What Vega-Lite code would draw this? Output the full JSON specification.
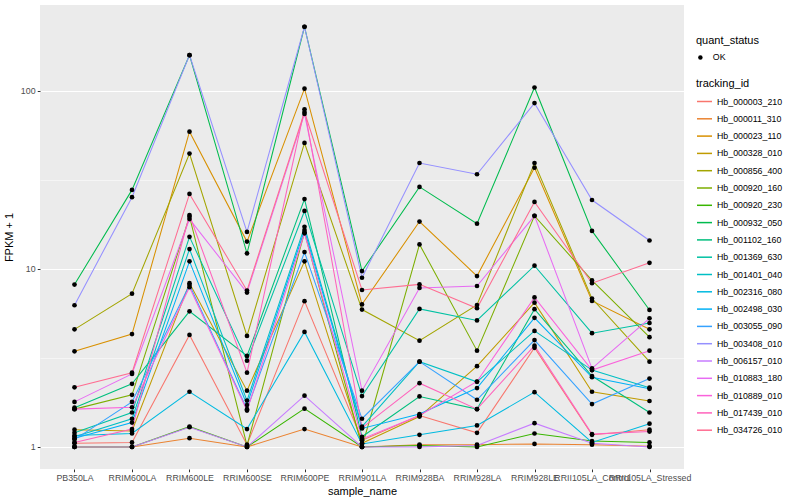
{
"$schema": "https://vega.github.io/schema/vega-lite/v6.json",
"width": 644, "height": 464,
"autosize": {"type": "none"},
"padding": {"left": 40, "top": 5, "right": 116, "bottom": 31},
"background": "white",
"config": {
  "font": "Liberation Sans",
  "view": {"fill": "#EBEBEB", "stroke": null},
  "axis": {"domain": false, "gridColor": "white", "tickColor": "#333333", "tickSize": 2.75, "labelColor": "#4D4D4D", "labelFontSize": 8.8, "titleFontSize": 11, "titleFontWeight": "normal", "titleColor": "black", "labelPadding": 2.2},
  "legend": {"titleFontSize": 11, "titleFontWeight": "normal", "titleColor": "black", "labelFontSize": 8.8, "labelColor": "black"}
},
"data": {"values": [
{"sample_name":"PB350LA","tracking_id":"Hb_000003_210","value":1.05,"quant_status":"OK"},
{"sample_name":"RRIM600LA","tracking_id":"Hb_000003_210","value":1.06,"quant_status":"OK"},
{"sample_name":"RRIM600LE","tracking_id":"Hb_000003_210","value":4.25,"quant_status":"OK"},
{"sample_name":"RRIM600SE","tracking_id":"Hb_000003_210","value":1.03,"quant_status":"OK"},
{"sample_name":"RRIM600PE","tracking_id":"Hb_000003_210","value":6.58,"quant_status":"OK"},
{"sample_name":"RRIM901LA","tracking_id":"Hb_000003_210","value":1.09,"quant_status":"OK"},
{"sample_name":"RRIM928BA","tracking_id":"Hb_000003_210","value":1.5,"quant_status":"OK"},
{"sample_name":"RRIM928LA","tracking_id":"Hb_000003_210","value":1.2,"quant_status":"OK"},
{"sample_name":"RRIM928LE","tracking_id":"Hb_000003_210","value":3.6,"quant_status":"OK"},
{"sample_name":"RRII105LA_Control","tracking_id":"Hb_000003_210","value":1.17,"quant_status":"OK"},
{"sample_name":"RRII105LA_Stressed","tracking_id":"Hb_000003_210","value":1.25,"quant_status":"OK"},
{"sample_name":"PB350LA","tracking_id":"Hb_000011_310","value":1.0,"quant_status":"OK"},
{"sample_name":"RRIM600LA","tracking_id":"Hb_000011_310","value":1.0,"quant_status":"OK"},
{"sample_name":"RRIM600LE","tracking_id":"Hb_000011_310","value":1.12,"quant_status":"OK"},
{"sample_name":"RRIM600SE","tracking_id":"Hb_000011_310","value":1.0,"quant_status":"OK"},
{"sample_name":"RRIM600PE","tracking_id":"Hb_000011_310","value":1.26,"quant_status":"OK"},
{"sample_name":"RRIM901LA","tracking_id":"Hb_000011_310","value":1.0,"quant_status":"OK"},
{"sample_name":"RRIM928BA","tracking_id":"Hb_000011_310","value":1.03,"quant_status":"OK"},
{"sample_name":"RRIM928LA","tracking_id":"Hb_000011_310","value":1.03,"quant_status":"OK"},
{"sample_name":"RRIM928LE","tracking_id":"Hb_000011_310","value":1.04,"quant_status":"OK"},
{"sample_name":"RRII105LA_Control","tracking_id":"Hb_000011_310","value":1.03,"quant_status":"OK"},
{"sample_name":"RRII105LA_Stressed","tracking_id":"Hb_000011_310","value":1.01,"quant_status":"OK"},
{"sample_name":"PB350LA","tracking_id":"Hb_000023_110","value":3.44,"quant_status":"OK"},
{"sample_name":"RRIM600LA","tracking_id":"Hb_000023_110","value":4.3,"quant_status":"OK"},
{"sample_name":"RRIM600LE","tracking_id":"Hb_000023_110","value":58.8,"quant_status":"OK"},
{"sample_name":"RRIM600SE","tracking_id":"Hb_000023_110","value":14.2,"quant_status":"OK"},
{"sample_name":"RRIM600PE","tracking_id":"Hb_000023_110","value":102.5,"quant_status":"OK"},
{"sample_name":"RRIM901LA","tracking_id":"Hb_000023_110","value":6.31,"quant_status":"OK"},
{"sample_name":"RRIM928BA","tracking_id":"Hb_000023_110","value":18.4,"quant_status":"OK"},
{"sample_name":"RRIM928LA","tracking_id":"Hb_000023_110","value":9.1,"quant_status":"OK"},
{"sample_name":"RRIM928LE","tracking_id":"Hb_000023_110","value":36.9,"quant_status":"OK"},
{"sample_name":"RRII105LA_Control","tracking_id":"Hb_000023_110","value":6.6,"quant_status":"OK"},
{"sample_name":"RRII105LA_Stressed","tracking_id":"Hb_000023_110","value":4.57,"quant_status":"OK"},
{"sample_name":"PB350LA","tracking_id":"Hb_000328_010","value":1.25,"quant_status":"OK"},
{"sample_name":"RRIM600LA","tracking_id":"Hb_000328_010","value":1.23,"quant_status":"OK"},
{"sample_name":"RRIM600LE","tracking_id":"Hb_000328_010","value":8.3,"quant_status":"OK"},
{"sample_name":"RRIM600SE","tracking_id":"Hb_000328_010","value":2.07,"quant_status":"OK"},
{"sample_name":"RRIM600PE","tracking_id":"Hb_000328_010","value":11.0,"quant_status":"OK"},
{"sample_name":"RRIM901LA","tracking_id":"Hb_000328_010","value":1.05,"quant_status":"OK"},
{"sample_name":"RRIM928BA","tracking_id":"Hb_000328_010","value":1.48,"quant_status":"OK"},
{"sample_name":"RRIM928LA","tracking_id":"Hb_000328_010","value":2.84,"quant_status":"OK"},
{"sample_name":"RRIM928LE","tracking_id":"Hb_000328_010","value":6.45,"quant_status":"OK"},
{"sample_name":"RRII105LA_Control","tracking_id":"Hb_000328_010","value":2.04,"quant_status":"OK"},
{"sample_name":"RRII105LA_Stressed","tracking_id":"Hb_000328_010","value":1.81,"quant_status":"OK"},
{"sample_name":"PB350LA","tracking_id":"Hb_000856_400","value":4.57,"quant_status":"OK"},
{"sample_name":"RRIM600LA","tracking_id":"Hb_000856_400","value":7.25,"quant_status":"OK"},
{"sample_name":"RRIM600LE","tracking_id":"Hb_000856_400","value":44.3,"quant_status":"OK"},
{"sample_name":"RRIM600SE","tracking_id":"Hb_000856_400","value":4.2,"quant_status":"OK"},
{"sample_name":"RRIM600PE","tracking_id":"Hb_000856_400","value":50.8,"quant_status":"OK"},
{"sample_name":"RRIM901LA","tracking_id":"Hb_000856_400","value":5.9,"quant_status":"OK"},
{"sample_name":"RRIM928BA","tracking_id":"Hb_000856_400","value":3.95,"quant_status":"OK"},
{"sample_name":"RRIM928LA","tracking_id":"Hb_000856_400","value":6.26,"quant_status":"OK"},
{"sample_name":"RRIM928LE","tracking_id":"Hb_000856_400","value":39.2,"quant_status":"OK"},
{"sample_name":"RRII105LA_Control","tracking_id":"Hb_000856_400","value":6.8,"quant_status":"OK"},
{"sample_name":"RRII105LA_Stressed","tracking_id":"Hb_000856_400","value":3.01,"quant_status":"OK"},
{"sample_name":"PB350LA","tracking_id":"Hb_000920_160","value":1.63,"quant_status":"OK"},
{"sample_name":"RRIM600LA","tracking_id":"Hb_000920_160","value":1.96,"quant_status":"OK"},
{"sample_name":"RRIM600LE","tracking_id":"Hb_000920_160","value":19.6,"quant_status":"OK"},
{"sample_name":"RRIM600SE","tracking_id":"Hb_000920_160","value":1.02,"quant_status":"OK"},
{"sample_name":"RRIM600PE","tracking_id":"Hb_000920_160","value":16.0,"quant_status":"OK"},
{"sample_name":"RRIM901LA","tracking_id":"Hb_000920_160","value":1.0,"quant_status":"OK"},
{"sample_name":"RRIM928BA","tracking_id":"Hb_000920_160","value":13.7,"quant_status":"OK"},
{"sample_name":"RRIM928LA","tracking_id":"Hb_000920_160","value":3.47,"quant_status":"OK"},
{"sample_name":"RRIM928LE","tracking_id":"Hb_000920_160","value":19.8,"quant_status":"OK"},
{"sample_name":"RRII105LA_Control","tracking_id":"Hb_000920_160","value":8.6,"quant_status":"OK"},
{"sample_name":"RRII105LA_Stressed","tracking_id":"Hb_000920_160","value":4.13,"quant_status":"OK"},
{"sample_name":"PB350LA","tracking_id":"Hb_000920_230","value":1.0,"quant_status":"OK"},
{"sample_name":"RRIM600LA","tracking_id":"Hb_000920_230","value":1.0,"quant_status":"OK"},
{"sample_name":"RRIM600LE","tracking_id":"Hb_000920_230","value":1.3,"quant_status":"OK"},
{"sample_name":"RRIM600SE","tracking_id":"Hb_000920_230","value":1.0,"quant_status":"OK"},
{"sample_name":"RRIM600PE","tracking_id":"Hb_000920_230","value":1.64,"quant_status":"OK"},
{"sample_name":"RRIM901LA","tracking_id":"Hb_000920_230","value":1.0,"quant_status":"OK"},
{"sample_name":"RRIM928BA","tracking_id":"Hb_000920_230","value":1.02,"quant_status":"OK"},
{"sample_name":"RRIM928LA","tracking_id":"Hb_000920_230","value":1.0,"quant_status":"OK"},
{"sample_name":"RRIM928LE","tracking_id":"Hb_000920_230","value":1.19,"quant_status":"OK"},
{"sample_name":"RRII105LA_Control","tracking_id":"Hb_000920_230","value":1.08,"quant_status":"OK"},
{"sample_name":"RRII105LA_Stressed","tracking_id":"Hb_000920_230","value":1.06,"quant_status":"OK"},
{"sample_name":"PB350LA","tracking_id":"Hb_000932_050","value":8.15,"quant_status":"OK"},
{"sample_name":"RRIM600LA","tracking_id":"Hb_000932_050","value":27.7,"quant_status":"OK"},
{"sample_name":"RRIM600LE","tracking_id":"Hb_000932_050","value":158,"quant_status":"OK"},
{"sample_name":"RRIM600SE","tracking_id":"Hb_000932_050","value":12.2,"quant_status":"OK"},
{"sample_name":"RRIM600PE","tracking_id":"Hb_000932_050","value":228,"quant_status":"OK"},
{"sample_name":"RRIM901LA","tracking_id":"Hb_000932_050","value":9.7,"quant_status":"OK"},
{"sample_name":"RRIM928BA","tracking_id":"Hb_000932_050","value":28.8,"quant_status":"OK"},
{"sample_name":"RRIM928LA","tracking_id":"Hb_000932_050","value":17.9,"quant_status":"OK"},
{"sample_name":"RRIM928LE","tracking_id":"Hb_000932_050","value":104,"quant_status":"OK"},
{"sample_name":"RRII105LA_Control","tracking_id":"Hb_000932_050","value":16.3,"quant_status":"OK"},
{"sample_name":"RRII105LA_Stressed","tracking_id":"Hb_000932_050","value":5.87,"quant_status":"OK"},
{"sample_name":"PB350LA","tracking_id":"Hb_001102_160","value":1.66,"quant_status":"OK"},
{"sample_name":"RRIM600LA","tracking_id":"Hb_001102_160","value":2.26,"quant_status":"OK"},
{"sample_name":"RRIM600LE","tracking_id":"Hb_001102_160","value":5.77,"quant_status":"OK"},
{"sample_name":"RRIM600SE","tracking_id":"Hb_001102_160","value":3.24,"quant_status":"OK"},
{"sample_name":"RRIM600PE","tracking_id":"Hb_001102_160","value":24.6,"quant_status":"OK"},
{"sample_name":"RRIM901LA","tracking_id":"Hb_001102_160","value":1.14,"quant_status":"OK"},
{"sample_name":"RRIM928BA","tracking_id":"Hb_001102_160","value":1.92,"quant_status":"OK"},
{"sample_name":"RRIM928LA","tracking_id":"Hb_001102_160","value":1.63,"quant_status":"OK"},
{"sample_name":"RRIM928LE","tracking_id":"Hb_001102_160","value":5.93,"quant_status":"OK"},
{"sample_name":"RRII105LA_Control","tracking_id":"Hb_001102_160","value":2.5,"quant_status":"OK"},
{"sample_name":"RRII105LA_Stressed","tracking_id":"Hb_001102_160","value":1.56,"quant_status":"OK"},
{"sample_name":"PB350LA","tracking_id":"Hb_001369_630","value":1.2,"quant_status":"OK"},
{"sample_name":"RRIM600LA","tracking_id":"Hb_001369_630","value":1.56,"quant_status":"OK"},
{"sample_name":"RRIM600LE","tracking_id":"Hb_001369_630","value":15.1,"quant_status":"OK"},
{"sample_name":"RRIM600SE","tracking_id":"Hb_001369_630","value":3.05,"quant_status":"OK"},
{"sample_name":"RRIM600PE","tracking_id":"Hb_001369_630","value":21.1,"quant_status":"OK"},
{"sample_name":"RRIM901LA","tracking_id":"Hb_001369_630","value":1.93,"quant_status":"OK"},
{"sample_name":"RRIM928BA","tracking_id":"Hb_001369_630","value":5.95,"quant_status":"OK"},
{"sample_name":"RRIM928LA","tracking_id":"Hb_001369_630","value":5.13,"quant_status":"OK"},
{"sample_name":"RRIM928LE","tracking_id":"Hb_001369_630","value":10.4,"quant_status":"OK"},
{"sample_name":"RRII105LA_Control","tracking_id":"Hb_001369_630","value":4.35,"quant_status":"OK"},
{"sample_name":"RRII105LA_Stressed","tracking_id":"Hb_001369_630","value":4.96,"quant_status":"OK"},
{"sample_name":"PB350LA","tracking_id":"Hb_001401_040","value":1.14,"quant_status":"OK"},
{"sample_name":"RRIM600LA","tracking_id":"Hb_001401_040","value":1.44,"quant_status":"OK"},
{"sample_name":"RRIM600LE","tracking_id":"Hb_001401_040","value":12.9,"quant_status":"OK"},
{"sample_name":"RRIM600SE","tracking_id":"Hb_001401_040","value":1.82,"quant_status":"OK"},
{"sample_name":"RRIM600PE","tracking_id":"Hb_001401_040","value":17.2,"quant_status":"OK"},
{"sample_name":"RRIM901LA","tracking_id":"Hb_001401_040","value":1.3,"quant_status":"OK"},
{"sample_name":"RRIM928BA","tracking_id":"Hb_001401_040","value":3.01,"quant_status":"OK"},
{"sample_name":"RRIM928LA","tracking_id":"Hb_001401_040","value":2.32,"quant_status":"OK"},
{"sample_name":"RRIM928LE","tracking_id":"Hb_001401_040","value":4.48,"quant_status":"OK"},
{"sample_name":"RRII105LA_Control","tracking_id":"Hb_001401_040","value":2.7,"quant_status":"OK"},
{"sample_name":"RRII105LA_Stressed","tracking_id":"Hb_001401_040","value":2.15,"quant_status":"OK"},
{"sample_name":"PB350LA","tracking_id":"Hb_002316_080","value":1.16,"quant_status":"OK"},
{"sample_name":"RRIM600LA","tracking_id":"Hb_002316_080","value":1.19,"quant_status":"OK"},
{"sample_name":"RRIM600LE","tracking_id":"Hb_002316_080","value":2.04,"quant_status":"OK"},
{"sample_name":"RRIM600SE","tracking_id":"Hb_002316_080","value":1.26,"quant_status":"OK"},
{"sample_name":"RRIM600PE","tracking_id":"Hb_002316_080","value":4.42,"quant_status":"OK"},
{"sample_name":"RRIM901LA","tracking_id":"Hb_002316_080","value":1.04,"quant_status":"OK"},
{"sample_name":"RRIM928BA","tracking_id":"Hb_002316_080","value":1.17,"quant_status":"OK"},
{"sample_name":"RRIM928LA","tracking_id":"Hb_002316_080","value":1.32,"quant_status":"OK"},
{"sample_name":"RRIM928LE","tracking_id":"Hb_002316_080","value":2.03,"quant_status":"OK"},
{"sample_name":"RRII105LA_Control","tracking_id":"Hb_002316_080","value":1.06,"quant_status":"OK"},
{"sample_name":"RRII105LA_Stressed","tracking_id":"Hb_002316_080","value":1.35,"quant_status":"OK"},
{"sample_name":"PB350LA","tracking_id":"Hb_002498_030","value":1.12,"quant_status":"OK"},
{"sample_name":"RRIM600LA","tracking_id":"Hb_002498_030","value":1.37,"quant_status":"OK"},
{"sample_name":"RRIM600LE","tracking_id":"Hb_002498_030","value":11.0,"quant_status":"OK"},
{"sample_name":"RRIM600SE","tracking_id":"Hb_002498_030","value":1.72,"quant_status":"OK"},
{"sample_name":"RRIM600PE","tracking_id":"Hb_002498_030","value":16.5,"quant_status":"OK"},
{"sample_name":"RRIM901LA","tracking_id":"Hb_002498_030","value":1.27,"quant_status":"OK"},
{"sample_name":"RRIM928BA","tracking_id":"Hb_002498_030","value":1.53,"quant_status":"OK"},
{"sample_name":"RRIM928LA","tracking_id":"Hb_002498_030","value":2.14,"quant_status":"OK"},
{"sample_name":"RRIM928LE","tracking_id":"Hb_002498_030","value":5.3,"quant_status":"OK"},
{"sample_name":"RRII105LA_Control","tracking_id":"Hb_002498_030","value":2.46,"quant_status":"OK"},
{"sample_name":"RRII105LA_Stressed","tracking_id":"Hb_002498_030","value":2.12,"quant_status":"OK"},
{"sample_name":"PB350LA","tracking_id":"Hb_003055_090","value":1.1,"quant_status":"OK"},
{"sample_name":"RRIM600LA","tracking_id":"Hb_003055_090","value":1.79,"quant_status":"OK"},
{"sample_name":"RRIM600LE","tracking_id":"Hb_003055_090","value":8.1,"quant_status":"OK"},
{"sample_name":"RRIM600SE","tracking_id":"Hb_003055_090","value":1.63,"quant_status":"OK"},
{"sample_name":"RRIM600PE","tracking_id":"Hb_003055_090","value":12.4,"quant_status":"OK"},
{"sample_name":"RRIM901LA","tracking_id":"Hb_003055_090","value":1.44,"quant_status":"OK"},
{"sample_name":"RRIM928BA","tracking_id":"Hb_003055_090","value":3.01,"quant_status":"OK"},
{"sample_name":"RRIM928LA","tracking_id":"Hb_003055_090","value":1.84,"quant_status":"OK"},
{"sample_name":"RRIM928LE","tracking_id":"Hb_003055_090","value":3.98,"quant_status":"OK"},
{"sample_name":"RRII105LA_Control","tracking_id":"Hb_003055_090","value":1.74,"quant_status":"OK"},
{"sample_name":"RRII105LA_Stressed","tracking_id":"Hb_003055_090","value":2.42,"quant_status":"OK"},
{"sample_name":"PB350LA","tracking_id":"Hb_003408_010","value":6.24,"quant_status":"OK"},
{"sample_name":"RRIM600LA","tracking_id":"Hb_003408_010","value":25.2,"quant_status":"OK"},
{"sample_name":"RRIM600LE","tracking_id":"Hb_003408_010","value":158,"quant_status":"OK"},
{"sample_name":"RRIM600SE","tracking_id":"Hb_003408_010","value":16.1,"quant_status":"OK"},
{"sample_name":"RRIM600PE","tracking_id":"Hb_003408_010","value":228,"quant_status":"OK"},
{"sample_name":"RRIM901LA","tracking_id":"Hb_003408_010","value":8.9,"quant_status":"OK"},
{"sample_name":"RRIM928BA","tracking_id":"Hb_003408_010","value":39.2,"quant_status":"OK"},
{"sample_name":"RRIM928LA","tracking_id":"Hb_003408_010","value":33.9,"quant_status":"OK"},
{"sample_name":"RRIM928LE","tracking_id":"Hb_003408_010","value":85,"quant_status":"OK"},
{"sample_name":"RRII105LA_Control","tracking_id":"Hb_003408_010","value":24.3,"quant_status":"OK"},
{"sample_name":"RRII105LA_Stressed","tracking_id":"Hb_003408_010","value":14.4,"quant_status":"OK"},
{"sample_name":"PB350LA","tracking_id":"Hb_006157_010","value":1.0,"quant_status":"OK"},
{"sample_name":"RRIM600LA","tracking_id":"Hb_006157_010","value":1.0,"quant_status":"OK"},
{"sample_name":"RRIM600LE","tracking_id":"Hb_006157_010","value":1.29,"quant_status":"OK"},
{"sample_name":"RRIM600SE","tracking_id":"Hb_006157_010","value":1.0,"quant_status":"OK"},
{"sample_name":"RRIM600PE","tracking_id":"Hb_006157_010","value":1.94,"quant_status":"OK"},
{"sample_name":"RRIM901LA","tracking_id":"Hb_006157_010","value":1.0,"quant_status":"OK"},
{"sample_name":"RRIM928BA","tracking_id":"Hb_006157_010","value":1.0,"quant_status":"OK"},
{"sample_name":"RRIM928LA","tracking_id":"Hb_006157_010","value":1.02,"quant_status":"OK"},
{"sample_name":"RRIM928LE","tracking_id":"Hb_006157_010","value":1.36,"quant_status":"OK"},
{"sample_name":"RRII105LA_Control","tracking_id":"Hb_006157_010","value":1.05,"quant_status":"OK"},
{"sample_name":"RRII105LA_Stressed","tracking_id":"Hb_006157_010","value":1.0,"quant_status":"OK"},
{"sample_name":"PB350LA","tracking_id":"Hb_010883_180","value":1.79,"quant_status":"OK"},
{"sample_name":"RRIM600LA","tracking_id":"Hb_010883_180","value":2.57,"quant_status":"OK"},
{"sample_name":"RRIM600LE","tracking_id":"Hb_010883_180","value":19.0,"quant_status":"OK"},
{"sample_name":"RRIM600SE","tracking_id":"Hb_010883_180","value":7.35,"quant_status":"OK"},
{"sample_name":"RRIM600PE","tracking_id":"Hb_010883_180","value":73.9,"quant_status":"OK"},
{"sample_name":"RRIM901LA","tracking_id":"Hb_010883_180","value":2.07,"quant_status":"OK"},
{"sample_name":"RRIM928BA","tracking_id":"Hb_010883_180","value":7.8,"quant_status":"OK"},
{"sample_name":"RRIM928LA","tracking_id":"Hb_010883_180","value":8.0,"quant_status":"OK"},
{"sample_name":"RRIM928LE","tracking_id":"Hb_010883_180","value":19.8,"quant_status":"OK"},
{"sample_name":"RRII105LA_Control","tracking_id":"Hb_010883_180","value":2.76,"quant_status":"OK"},
{"sample_name":"RRII105LA_Stressed","tracking_id":"Hb_010883_180","value":5.27,"quant_status":"OK"},
{"sample_name":"PB350LA","tracking_id":"Hb_010889_010","value":1.63,"quant_status":"OK"},
{"sample_name":"RRIM600LA","tracking_id":"Hb_010889_010","value":1.67,"quant_status":"OK"},
{"sample_name":"RRIM600LE","tracking_id":"Hb_010889_010","value":7.87,"quant_status":"OK"},
{"sample_name":"RRIM600SE","tracking_id":"Hb_010889_010","value":1.6,"quant_status":"OK"},
{"sample_name":"RRIM600PE","tracking_id":"Hb_010889_010","value":15.8,"quant_status":"OK"},
{"sample_name":"RRIM901LA","tracking_id":"Hb_010889_010","value":1.11,"quant_status":"OK"},
{"sample_name":"RRIM928BA","tracking_id":"Hb_010889_010","value":1.5,"quant_status":"OK"},
{"sample_name":"RRIM928LA","tracking_id":"Hb_010889_010","value":2.33,"quant_status":"OK"},
{"sample_name":"RRIM928LE","tracking_id":"Hb_010889_010","value":6.9,"quant_status":"OK"},
{"sample_name":"RRII105LA_Control","tracking_id":"Hb_010889_010","value":2.7,"quant_status":"OK"},
{"sample_name":"RRII105LA_Stressed","tracking_id":"Hb_010889_010","value":3.47,"quant_status":"OK"},
{"sample_name":"PB350LA","tracking_id":"Hb_017439_010","value":1.06,"quant_status":"OK"},
{"sample_name":"RRIM600LA","tracking_id":"Hb_017439_010","value":1.26,"quant_status":"OK"},
{"sample_name":"RRIM600LE","tracking_id":"Hb_017439_010","value":20.0,"quant_status":"OK"},
{"sample_name":"RRIM600SE","tracking_id":"Hb_017439_010","value":2.61,"quant_status":"OK"},
{"sample_name":"RRIM600PE","tracking_id":"Hb_017439_010","value":78.5,"quant_status":"OK"},
{"sample_name":"RRIM901LA","tracking_id":"Hb_017439_010","value":1.28,"quant_status":"OK"},
{"sample_name":"RRIM928BA","tracking_id":"Hb_017439_010","value":2.28,"quant_status":"OK"},
{"sample_name":"RRIM928LA","tracking_id":"Hb_017439_010","value":1.63,"quant_status":"OK"},
{"sample_name":"RRIM928LE","tracking_id":"Hb_017439_010","value":3.7,"quant_status":"OK"},
{"sample_name":"RRII105LA_Control","tracking_id":"Hb_017439_010","value":1.18,"quant_status":"OK"},
{"sample_name":"RRII105LA_Stressed","tracking_id":"Hb_017439_010","value":1.22,"quant_status":"OK"},
{"sample_name":"PB350LA","tracking_id":"Hb_034726_010","value":2.16,"quant_status":"OK"},
{"sample_name":"RRIM600LA","tracking_id":"Hb_034726_010","value":2.61,"quant_status":"OK"},
{"sample_name":"RRIM600LE","tracking_id":"Hb_034726_010","value":26.3,"quant_status":"OK"},
{"sample_name":"RRIM600SE","tracking_id":"Hb_034726_010","value":7.55,"quant_status":"OK"},
{"sample_name":"RRIM600PE","tracking_id":"Hb_034726_010","value":75.8,"quant_status":"OK"},
{"sample_name":"RRIM901LA","tracking_id":"Hb_034726_010","value":7.6,"quant_status":"OK"},
{"sample_name":"RRIM928BA","tracking_id":"Hb_034726_010","value":8.17,"quant_status":"OK"},
{"sample_name":"RRIM928LA","tracking_id":"Hb_034726_010","value":6.0,"quant_status":"OK"},
{"sample_name":"RRIM928LE","tracking_id":"Hb_034726_010","value":23.7,"quant_status":"OK"},
{"sample_name":"RRII105LA_Control","tracking_id":"Hb_034726_010","value":8.3,"quant_status":"OK"},
{"sample_name":"RRII105LA_Stressed","tracking_id":"Hb_034726_010","value":10.8,"quant_status":"OK"}
]},
"encoding": {
  "x": {"field": "sample_name", "type": "nominal",
    "sort": ["PB350LA","RRIM600LA","RRIM600LE","RRIM600SE","RRIM600PE","RRIM901LA","RRIM928BA","RRIM928LA","RRIM928LE","RRII105LA_Control","RRII105LA_Stressed"],
    "scale": {"type": "point", "padding": 0.6},
    "axis": {"title": "sample_name", "labelAngle": 0, "labelOverlap": false, "gridWidth": 1.07, "titlePadding": 3}},
  "y": {"field": "value", "type": "quantitative",
    "scale": {"type": "log", "domain": [0.752, 302], "nice": false, "zero": false},
    "axis": {"title": "FPKM + 1", "values": [1, 3.1623, 10, 31.623, 100],
      "labelExpr": "datum.value == 1 || datum.value == 10 || datum.value == 100 ? datum.label : ''",
      "tickColor": {"condition": {"test": "datum.value == 1 || datum.value == 10 || datum.value == 100", "value": "#333333"}, "value": "transparent"},
      "gridWidth": {"condition": {"test": "datum.value == 1 || datum.value == 10 || datum.value == 100", "value": 1.07}, "value": 0.53},
      "titlePadding": 6}}
},
"layer": [
  {"mark": {"type": "line", "strokeWidth": 1.05},
   "encoding": {"color": {"field": "tracking_id", "type": "nominal",
     "scale": {"domain": ["Hb_000003_210","Hb_000011_310","Hb_000023_110","Hb_000328_010","Hb_000856_400","Hb_000920_160","Hb_000920_230","Hb_000932_050","Hb_001102_160","Hb_001369_630","Hb_001401_040","Hb_002316_080","Hb_002498_030","Hb_003055_090","Hb_003408_010","Hb_006157_010","Hb_010883_180","Hb_010889_010","Hb_017439_010","Hb_034726_010"],
       "range": ["#F8766D","#EA8331","#D89000","#C09B00","#A3A500","#7CAE00","#39B600","#00BB4E","#00BF7D","#00C1A3","#00BFC4","#00BAE0","#00B0F6","#35A2FF","#9590FF","#C77CFF","#E76BF3","#FA62DB","#FF62BC","#FF6C91"]},
     "legend": {"title": "tracking_id", "orient": "none", "legendX": 656, "legendY": 73, "symbolType": "stroke", "symbolSize": 225, "symbolStrokeWidth": 1.5, "rowPadding": 3.3, "titlePadding": 4, "labelOffset": 4}}}},
  {"mark": {"type": "point", "filled": true, "size": 22, "color": "black", "opacity": 1},
   "encoding": {"shape": {"field": "quant_status", "type": "nominal",
     "scale": {"range": ["circle"]},
     "legend": {"title": "quant_status", "orient": "none", "legendX": 656, "legendY": 30, "symbolFillColor": "black", "symbolStrokeColor": "black", "symbolSize": 20, "titlePadding": 7, "labelOffset": 8}}}}
]
}
